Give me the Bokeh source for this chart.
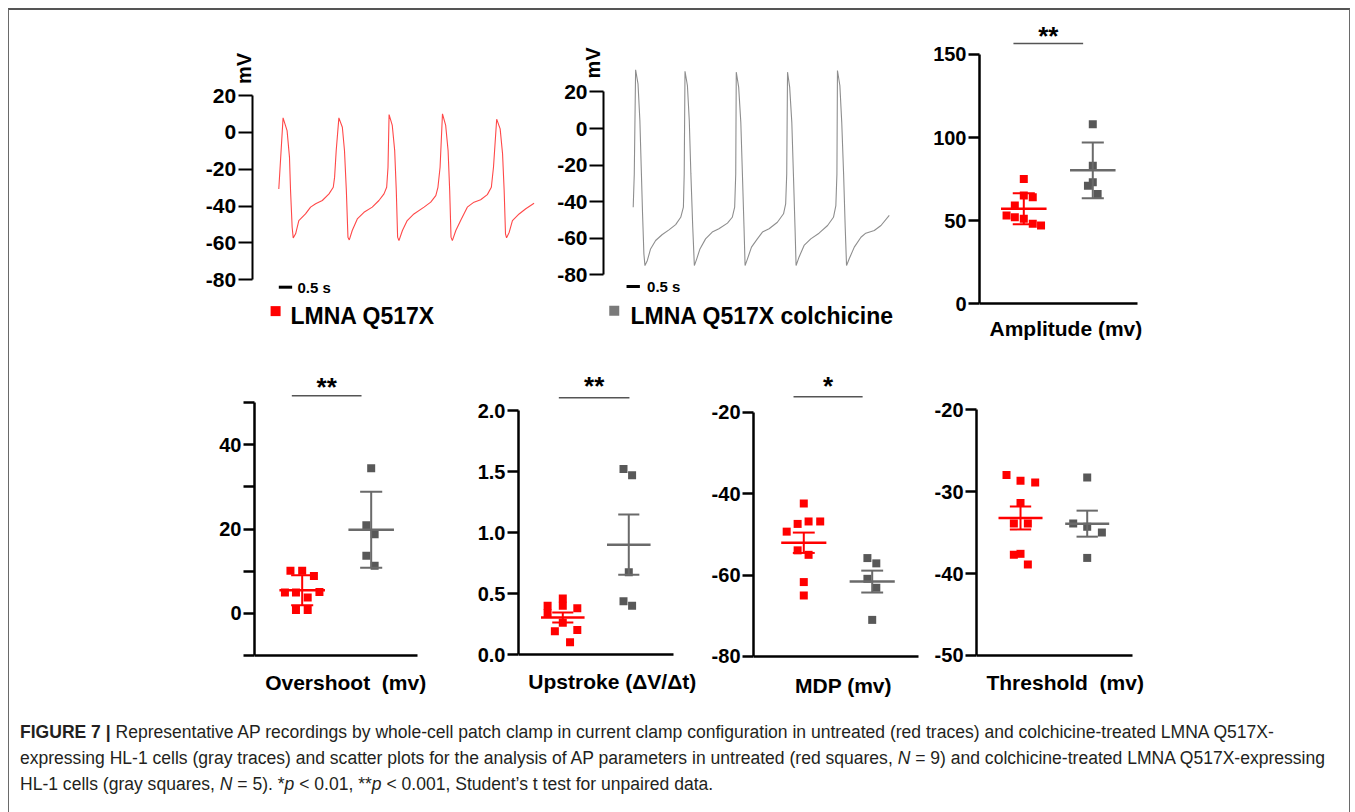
import numpy as np
from math import pi
from bokeh.plotting import figure
from bokeh.layouts import row, column
from bokeh.models import Spacer, Div, Label, FixedTicker, Range1d
from bokeh.embed import file_html
from bokeh.resources import INLINE

FONT = "Liberation Sans"
RED = "#ff0000"
RED_TRACE = "#ff4848"
GRAY_PT = "#585858"
GRAY_LN = "#6a6a6a"
GRAY_TRACE = "#8e8e8e"

# ---------------- data ----------------
# Representative AP recordings: time (s), membrane potential (mV)
t1 = [0.00, 0.16, 0.31, 0.40, 0.44, 0.50, 0.54, 0.63, 0.75, 1.00, 1.19, 1.38, 1.63, 1.88, 2.04, 2.09, 2.15,
      2.25, 2.38, 2.46, 2.53, 2.59, 2.64, 2.75, 2.94, 3.19, 3.50, 3.75, 3.94, 4.04, 4.09,
      4.13, 4.25, 4.34, 4.40, 4.45, 4.50, 4.63, 4.81, 5.06, 5.44, 5.69, 5.88, 5.96, 6.04,
      6.13, 6.25, 6.34, 6.40, 6.45, 6.50, 6.63, 6.81, 7.06, 7.31, 7.56, 7.81, 7.96, 8.04,
      8.16, 8.29, 8.38, 8.44, 8.49, 8.53, 8.63, 8.75, 9.00, 9.25, 9.56]
v1 = [-30.7, 7.9, 1.0, -13.5, -31.6, -51.5, -57.3, -55.1, -47.9, -44.3, -40.6, -38.8, -37.0, -33.4, -29.8, -24.3, -9.8,
      7.9, 2.8, -9.8, -31.6, -56.9, -58.4, -53.3, -47.0, -43.4, -40.6, -37.0, -33.4, -29.8, -18.9,
      9.7, 3.8, -9.8, -31.6, -56.9, -58.8, -53.3, -47.9, -44.3, -40.6, -37.9, -34.3, -29.8, -18.9,
      10.1, 3.8, -9.8, -31.6, -56.9, -58.8, -53.3, -47.9, -40.6, -37.9, -36.6, -33.8, -29.8, -18.9,
      7.2, 1.9, -11.6, -31.6, -55.1, -57.3, -54.2, -47.9, -44.3, -41.5, -38.5]

t2 = [0.00, 0.04, 0.09, 0.18, 0.25, 0.30, 0.35, 0.40, 0.44, 0.53, 0.65, 0.84, 1.09, 1.34, 1.59, 1.78, 1.88, 1.91,
      1.94, 2.03, 2.10, 2.16, 2.23, 2.29, 2.38, 2.50, 2.71, 2.96, 3.21, 3.53, 3.71, 3.80, 3.84,
      3.86, 3.95, 4.03, 4.09, 4.15, 4.19, 4.28, 4.43, 4.65, 4.84, 5.09, 5.40, 5.63, 5.71, 5.75,
      5.78, 5.86, 5.94, 6.00, 6.06, 6.10, 6.21, 6.40, 6.65, 6.96, 7.28, 7.50, 7.59, 7.63,
      7.65, 7.74, 7.81, 7.88, 7.94, 7.99, 8.09, 8.28, 8.53, 8.71, 9.03, 9.28, 9.59]
v2 = [-43.0, -24.8, 32.1, 24.4, 4.4, -21.1, -46.6, -68.5, -74.9, -72.1, -65.8, -61.2, -57.9, -55.4, -52.5, -48.5, -43.0, -24.8,
      31.3, 23.5, 4.4, -24.8, -53.9, -74.9, -71.2, -65.8, -60.3, -56.6, -54.8, -51.7, -48.5, -43.0, -24.8,
      30.8, 22.6, 3.5, -24.8, -53.9, -74.9, -71.2, -64.8, -60.3, -56.6, -54.8, -51.2, -46.6, -41.2, -24.8,
      30.8, 22.6, 3.5, -24.8, -53.9, -74.9, -70.3, -63.9, -60.3, -57.2, -53.0, -48.5, -42.1, -24.8,
      31.7, 23.5, 3.5, -24.8, -53.9, -74.9, -71.2, -64.8, -59.4, -57.2, -55.7, -53.0, -47.5]

trace_ticks = [20, 0, -20, -40, -60, -80]
scale_bar_s = 0.5
legend_names = ["LMNA Q517X", "LMNA Q517X colchicine"]

# AP parameters: untreated (red, N = 9) and colchicine-treated (gray, N = 5)
amp_red = [75, 65, 64, 59, 53, 52, 51, 48, 47]
amp_red_jit = [0, 0, 0.13, -0.13, -0.25, -0.13, 0, 0.13, 0.25]
amp_gray = [108, 83, 73, 71, 66]
amp_gray_jit = [0, 0, 0, -0.07, 0.07]

ovs_red = [10.1, 10.1, 8.9, 5.0, 5.0, 5.1, 3.8, 0.8, 0.8]
ovs_red_jit = [-0.17, 0, 0.17, -0.25, -0.09, 0.25, 0.08, -0.09, 0.08]
ovs_gray = [34.4, 20.9, 18.8, 13.7, 11.3]
ovs_gray_jit = [0, -0.07, 0.05, -0.07, 0.05]

ups_red = [0.40, 0.34, 0.46, 0.40, 0.38, 0.26, 0.19, 0.20, 0.10]
ups_red_jit = [-0.23, -0.23, 0, 0, 0.22, 0, -0.12, 0.22, 0.11]
ups_gray = [1.52, 1.47, 0.675, 0.437, 0.40]
ups_gray_jit = [-0.08, 0.05, 0, -0.08, 0.05]

mdp_red = [-42.4, -47.4, -46.8, -46.8, -49.3, -53.9, -55.0, -61.7, -65.0]
mdp_red_jit = [0, -0.09, 0.07, 0.24, -0.25, -0.09, 0.07, 0, 0]
mdp_gray = [-55.8, -57.1, -60.9, -63.1, -71.0]
mdp_gray_jit = [-0.07, 0.06, -0.07, 0.06, 0]

thr_red = [-28.0, -28.7, -28.9, -31.4, -33.9, -33.9, -37.7, -37.6, -38.9]
thr_red_jit = [-0.21, 0, 0.22, 0, -0.10, 0.11, -0.10, 0, 0.11]
thr_gray = [-28.3, -33.9, -34.3, -35.0, -38.1]
thr_gray_jit = [0, -0.21, 0, 0.22, 0]

caption_html = (
    "<b>FIGURE 7 |</b> Representative AP recordings by whole-cell patch clamp in current clamp configuration "
    "in untreated (red traces) and colchicine-treated LMNA Q517X-<br>"
    "expressing HL-1 cells (gray traces) and scatter plots for the analysis of AP parameters in untreated "
    "(red squares, <i>N</i> = 9) and colchicine-treated LMNA Q517X-expressing<br>"
    "HL-1 cells (gray squares, <i>N</i> = 5). *<i>p</i> &lt; 0.01, **<i>p</i> &lt; 0.001, "
    "Student\u2019s t test for unpaired data."
)


def hyphen_labels(ticks):
    return {t: str(t) for t in ticks if isinstance(t, int) and t < 0}


def style_yaxis(ax, size, tick_out, lw):
    ax.axis_line_width = lw
    ax.axis_line_color = "black"
    ax.major_tick_line_width = lw
    ax.major_tick_line_color = "black"
    ax.major_tick_out = tick_out
    ax.major_tick_in = 0
    ax.minor_tick_line_color = None
    ax.major_label_standoff = 2
    ax.major_label_text_font = FONT
    ax.major_label_text_font_style = "bold"
    ax.major_label_text_font_size = size
    ax.major_label_text_color = "black"


def trace_panel(t, v, color, legend, lay):
    p = figure(frame_width=lay["fw"], frame_height=lay["fh"],
               x_range=Range1d(*lay["xr"]), y_range=Range1d(*lay["yr"]),
               x_axis_location=None, toolbar_location=None, output_backend="svg", title=None,
               min_border_left=0, min_border_right=0, min_border_top=0, min_border_bottom=0)
    p.outline_line_color = None
    p.grid.visible = False
    p.line(t, v, line_color=color, line_width=1.1)
    ax = p.yaxis[0]
    ax.fixed_location = lay["axis_x"]
    ax.ticker = FixedTicker(ticks=trace_ticks)
    ax.bounds = (min(trace_ticks), max(trace_ticks))
    ax.major_label_overrides = hyphen_labels(trace_ticks)
    style_yaxis(ax, "21px", 14, 2)
    # scale bar
    x0 = lay["bar_x"]
    p.segment(x0=[x0], y0=[lay["bar_y"]], x1=[x0 + scale_bar_s], y1=[lay["bar_y"]],
              line_color="black", line_width=3)
    p.add_layout(Label(x=lay["bar_lx"], y=lay["bar_y"], text=f"{scale_bar_s} s",
                       text_font=FONT, text_font_style="bold", text_font_size="15px",
                       text_baseline="middle", text_align="left", text_color="black"))
    # mV label
    p.add_layout(Label(x=lay["mv_x"], y=lay["mv_y"], text="mV", angle=pi / 2,
                       text_font=FONT, text_font_style="bold", text_font_size="20px",
                       text_baseline="middle", text_align="center", text_color="black"))
    # legend
    p.scatter([lay["leg_sx"]], [lay["leg_sy"]], marker="square", size=10,
              fill_color=lay["leg_color"], line_color=None)
    p.add_layout(Label(x=lay["leg_tx"], y=lay["leg_ty"], text=legend,
                       text_font=FONT, text_font_style="bold", text_font_size="23px",
                       text_baseline="middle", text_align="left", text_color="black"))
    return p


def scatter_panel(red, red_jit, gray, gray_jit, err, ticks, labels, xlabel, lay):
    p = figure(frame_width=lay["fw"], frame_height=lay["fh"],
               x_range=Range1d(*lay["xr"]), y_range=Range1d(*lay["yr"]),
               toolbar_location=None, output_backend="svg", title=None,
               min_border_left=lay["bl"], min_border_right=0,
               min_border_top=0, min_border_bottom=0)
    p.outline_line_color = None
    p.grid.visible = False
    ax = p.yaxis[0]
    ax.ticker = FixedTicker(ticks=ticks)
    ax.bounds = (min(ticks), max(ticks))
    ov = hyphen_labels(ticks)
    ov.update(labels)
    ax.major_label_overrides = ov
    style_yaxis(ax, "20px", 11, 2.5)
    xa = p.xaxis[0]
    xa.fixed_location = min(ticks)
    xa.bounds = (lay["xr"][0], lay["x_end"])
    xa.ticker = FixedTicker(ticks=[])
    xa.axis_line_width = 2.5
    xa.axis_line_color = "black"
    xa.major_tick_line_color = None
    xa.minor_tick_line_color = None
    xa.major_label_text_font_size = "0px"

    for g, vals, jit, pc, lc in ((1, red, red_jit, RED, RED), (2, gray, gray_jit, GRAY_PT, GRAY_LN)):
        arr = np.array(vals, dtype=float)
        xs = [g + j for j in jit]
        p.scatter(xs, vals, marker="square", size=8, fill_color=pc, line_color=None)
        m = arr.mean()
        e = arr.std(ddof=1)
        if err == "sem":
            e = e / np.sqrt(len(arr))
        p.segment(x0=[g - 0.33], y0=[m], x1=[g + 0.33], y1=[m], line_color=lc, line_width=2.5)
        p.segment(x0=[g, g - 0.16, g - 0.16], y0=[m - e, m + e, m - e],
                  x1=[g, g + 0.16, g + 0.16], y1=[m + e, m + e, m - e],
                  line_color=lc, line_width=2)

    if lay.get("sig"):
        sx0, sx1, sy, stext, st_y = lay["sig"]
        p.segment(x0=[sx0], y0=[sy], x1=[sx1], y1=[sy], line_color="#555555", line_width=1.5)
        p.add_layout(Label(x=(sx0 + sx1) / 2, y=st_y, text=stext, text_font=FONT,
                           text_font_style="bold", text_font_size="26px",
                           text_align="center", text_baseline="alphabetic", text_color="black"))
    p.add_layout(Label(x=lay["xl_x"], y=lay["xl_y"], text=xlabel, text_font=FONT,
                       text_font_style="bold", text_font_size="21px",
                       text_align="center", text_baseline="middle", text_color="black"))
    return p


# ---------------- layout ----------------
figA = trace_panel(t1, v1, RED_TRACE, legend_names[0], dict(
    fw=348, fh=340, xr=(-3.232, 9.801), yr=(-118.5, 66.25), axis_x=-1.0,
    bar_x=0.0, bar_y=-84.1, bar_lx=0.70, mv_x=-1.30, mv_y=34.7,
    leg_sx=-0.12, leg_sy=-97.1, leg_tx=0.44, leg_ty=-99.5, leg_color=RED))
figB = trace_panel(t2, v2, GRAY_TRACE, legend_names[1], dict(
    fw=355, fh=340, xr=(-3.285, 10.011), yr=(-121.3, 64.48), axis_x=-1.112,
    bar_x=-0.25, bar_y=-86.3, bar_lx=0.52, mv_x=-1.49, mv_y=35.8,
    leg_sx=-0.71, leg_sy=-99.6, leg_tx=-0.10, leg_ty=-102.2, leg_color="#7a7a7a"))

figC = scatter_panel(amp_red, amp_red_jit, amp_gray, amp_gray_jit, "sd",
                     [0, 50, 100, 150], {}, "Amplitude (mv)", dict(
                         fw=178, fh=340, xr=(0.358, 2.938), yr=(-28.3, 176.5), bl=49, x_end=2.648,
                         sig=(0.85, 1.86, 156.6, "**", 161.1), xl_x=1.61, xl_y=-15.1))

figD = scatter_panel(ovs_red, ovs_red_jit, ovs_gray, ovs_gray_jit, "sd",
                     [-10, 0, 10, 20, 30, 40, 50], {-10: "", 10: "", 30: "", 50: ""},
                     "Overshoot \u00a0(mv)", dict(
                         fw=183, fh=360, xr=(0.309, 2.961), yr=(-22.99, 62.32), bl=49, x_end=2.671,
                         sig=(0.85, 1.86, 51.6, "**", 53.67), xl_x=1.63, xl_y=-16.4))
figE = scatter_panel(ups_red, ups_red_jit, ups_gray, ups_gray_jit, "sem",
                     [0, 0.5, 1, 1.5, 2], {0: "0.0", 0.5: "0.5", 1: "1.0", 1.5: "1.5", 2: "2.0"},
                     "Upstroke (\u0394V/\u0394t)", dict(
                         fw=185, fh=360, xr=(0.329, 3.132), yr=(-0.459, 2.4918), bl=48, x_end=2.677,
                         sig=(0.94, 2.01, 2.104, "**", 2.197), xl_x=1.75, xl_y=-0.221))
figF = scatter_panel(mdp_red, mdp_red_jit, mdp_gray, mdp_gray_jit, "sem",
                     [-80, -60, -40, -20], {}, "MDP (mv)", dict(
                         fw=172, fh=360, xr=(0.265, 2.779), yr=(-93.28, -4.76), bl=45, x_end=2.677,
                         sig=(0.85, 1.86, -16.14, "*", -13.49), xl_x=1.58, xl_y=-87.1))
figG = scatter_panel(thr_red, thr_red_jit, thr_gray, thr_gray_jit, "sem",
                     [-50, -40, -30, -20], {}, "Threshold \u00a0(mv)", dict(
                         fw=174, fh=360, xr=(0.34, 2.949), yr=(-56.71, -12.8), bl=46, x_end=2.68,
                         sig=None, xl_x=1.67, xl_y=-53.3))

top = row(Spacer(width=183, height=340), figA, Spacer(width=5, height=340), figB,
          Spacer(width=30, height=340), figC)
bottom = row(Spacer(width=196, height=360), figD, Spacer(width=33, height=360), figE,
             Spacer(width=5, height=360), figF, Spacer(width=5, height=360), figG)

cap = Div(text=(
    '<div style="padding:4px 0 0 6px; font-family:\'Liberation Sans\', Arial, sans-serif; '
    'font-size:17.55px; line-height:26px; color:#231f20; white-space:nowrap;">'
    + caption_html + '</div>'), width=1342, height=92)

root = column(top, bottom, cap, width=1342, styles={
    "margin-top": "8px",
    "margin-left": "8px",
    "border-top": "2px solid #555555",
    "border-left": "1.5px solid #6a6a6a",
    "border-right": "1.5px solid #6a6a6a",
})

open("out.html", "w").write(file_html(root, INLINE))
